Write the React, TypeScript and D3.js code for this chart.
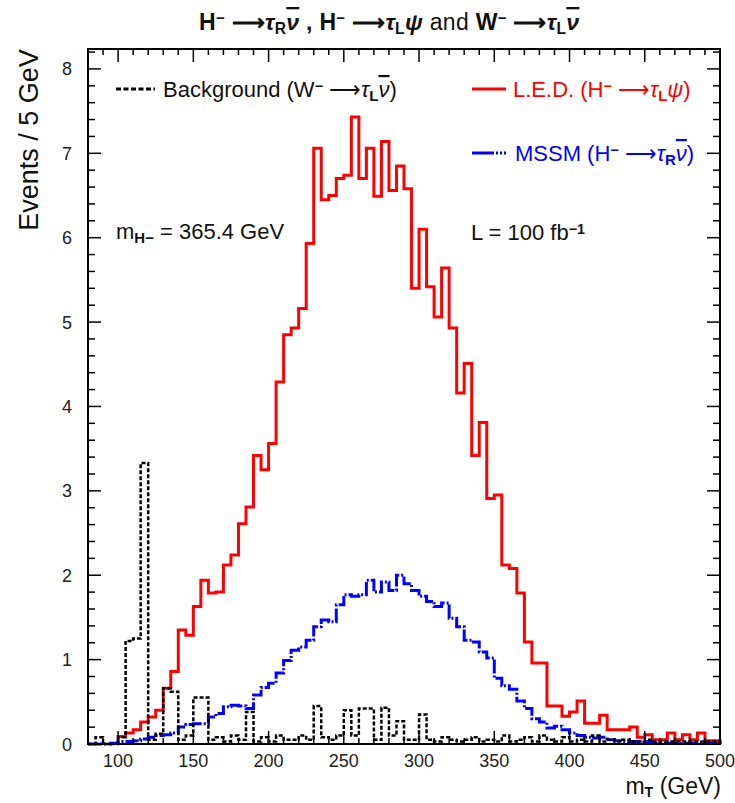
import React from "react";
import * as d3 from "d3";

const BIN = 5;
const ledStart = 100;
const ledValues = [
  0.09, 0.13, 0.17, 0.26, 0.32, 0.4, 0.66, 0.86, 1.35, 1.29,
  1.63, 1.94, 1.79, 1.8, 2.12, 2.24, 2.61, 2.81, 3.42, 3.25,
  3.56, 4.29, 4.85, 4.93, 5.16, 5.93, 7.06, 6.45, 6.5, 6.7,
  6.74, 7.43, 6.7, 7.06, 6.49, 7.14, 6.56, 6.85, 6.58, 5.4,
  6.1, 5.42, 5.06, 5.64, 4.93, 4.16, 4.51, 3.42, 3.81, 2.91,
  2.95, 2.12, 2.08, 1.79, 1.21, 0.96, 0.96, 0.45, 0.45, 0.33,
  0.38, 0.51, 0.245, 0.245, 0.34, 0.17, 0.17, 0.17, 0.2, 0.08,
  0.11, 0.05, 0.05, 0.13, 0.05, 0.11, 0.05, 0.13, 0.04, 0.04,
];
const mssmStart = 80;
const mssmValues = [
  0, 0, 0, 0.01, 0.03, 0.03, 0.04, 0.06, 0.08, 0.1,
  0.11, 0.13, 0.2, 0.23, 0.24, 0.24, 0.32, 0.36, 0.44, 0.46,
  0.45, 0.42, 0.58, 0.67, 0.72, 0.84, 0.99, 1.11, 1.15, 1.23,
  1.39, 1.47, 1.45, 1.65, 1.77, 1.75, 1.77, 1.94, 1.8, 1.92,
  1.82, 2.0, 1.9, 1.82, 1.75, 1.69, 1.63, 1.67, 1.49, 1.39,
  1.23, 1.21, 1.09, 1.02, 0.78, 0.69, 0.65, 0.51, 0.42, 0.3,
  0.26, 0.19, 0.21, 0.17, 0.13, 0.1, 0.08, 0.07, 0.08, 0.05,
  0.04, 0.03, 0.03, 0.02, 0.03, 0.01, 0.01, 0.01, 0.01, 0.01,
  0.01, 0.01, 0.01, 0.01,
];
const bkgStart = 80;
const bkgValues = [
  0, 0.08, 0, 0, 0.08, 1.22, 1.25, 3.33, 0.05, 0.12,
  0.66, 0.62, 0.05, 0.1, 0.55, 0.55, 0.05, 0.08, 0.03, 0.1,
  0.05, 0.38, 0.03, 0.08, 0.03, 0.1, 0.05, 0.05, 0.1, 0.05,
  0.45, 0.08, 0.05, 0.1, 0.4, 0.1, 0.42, 0.42, 0.05, 0.43,
  0.1, 0.27, 0.05, 0.05, 0.35, 0.05, 0.03, 0.08, 0.05, 0.03,
  0.05, 0.08, 0.03, 0.05, 0.03, 0.1, 0.03, 0.05, 0.08, 0.03,
  0.1, 0.05, 0.03, 0.08, 0.03, 0.05, 0.03, 0.1, 0.03, 0.05,
  0.03, 0.05, 0.03, 0.03, 0.05, 0.03, 0.03, 0.03, 0.03, 0.03,
  0.03, 0.03, 0.03, 0.03,
];
const xTickLabels = [100, 150, 200, 250, 300, 350, 400, 450, 500];
const yTickLabels = [0, 1, 2, 3, 4, 5, 6, 7, 8];

const W = 735;
const H = 803;
const PL = 88;
const PR = 720;
const PT = 49;
const PB = 744;
const FONT = "'Liberation Sans', Arial, Helvetica, sans-serif";
const RED = "#ff0000";
const BLUE = "#0000ff";

export default function App() {
  const x = d3.scaleLinear().domain([80, 500]).range([PL, PR]);
  const y = d3.scaleLinear().domain([0, 8.236]).range([PB, PT]);

  const hist = (start: number, vals: number[]) => {
    const end = start + vals.length * BIN;
    const pts: [number, number][] = [
      [start, 0],
      ...vals.map((v, i) => [start + i * BIN, v] as [number, number]),
      [end, vals[vals.length - 1]],
      [end, 0],
    ];
    return d3
      .line<[number, number]>()
      .x((d) => x(d[0]))
      .y((d) => y(d[1]))
      .curve(d3.curveStepAfter)(pts) as string;
  };

  const xMinor = d3.range(80, 501, 10);
  const yMinor = d3.range(0, 8.21, 0.2);

  const sub = (t: string, bold = true) => (
    <tspan baselineShift="-28%" fontSize="68%" fontWeight={bold ? "bold" : "normal"}>
      {t}
    </tspan>
  );
  const sup = (t: string) => (
    <tspan baselineShift="45%" fontSize="65%" fontWeight="bold">
      {t}
    </tspan>
  );
  const nubar = () => (
    <tspan style={{ textDecoration: "overline" }} fontStyle="italic">
      ν
    </tspan>
  );
  const tau = () => <tspan fontStyle="italic">τ</tspan>;
  const arrow = "⟶";

  return (
    <svg
      width={W}
      height={H}
      style={{ position: "absolute", left: 0, top: 0, background: "#fff" }}
      fontFamily={FONT}
    >
      {/* title */}
      <text x={199} y={30} fontSize={23} fill="#111" fontWeight="bold" letterSpacing={0.3}>
        H{sup("−")}
        <tspan> {arrow}</tspan>
        {tau()}
        {sub("R")}
        {nubar()}
        <tspan> , H</tspan>
        {sup("−")}
        <tspan> {arrow}</tspan>
        {tau()}
        {sub("L")}
        <tspan fontStyle="italic">ψ</tspan>
        <tspan fontWeight="normal"> and </tspan>
        <tspan>W</tspan>
        {sup("−")}
        <tspan> {arrow}</tspan>
        {tau()}
        {sub("L")}
        {nubar()}
      </text>

      {/* histograms */}
      <path d={hist(ledStart, ledValues)} fill="none" stroke={RED} strokeWidth={3} />
      <path
        d={hist(mssmStart, mssmValues)}
        fill="none"
        stroke={BLUE}
        strokeWidth={3}
        strokeDasharray="14 2 2 2"
      />
      <path
        d={hist(bkgStart, bkgValues)}
        fill="none"
        stroke="#000"
        strokeWidth={2.5}
        strokeDasharray="4 2"
      />

      {/* frame */}
      <rect x={PL} y={PT} width={PR - PL} height={PB - PT} fill="none" stroke="#000" strokeWidth={2} />

      {/* ticks */}
      {xMinor.map((v) => {
        const major = v % 50 === 0;
        const len = major ? 13 : 6;
        return (
          <g key={"xt" + v}>
            <line x1={x(v)} x2={x(v)} y1={PB} y2={PB - len} stroke="#000" strokeWidth={1.5} />
            <line x1={x(v)} x2={x(v)} y1={PT} y2={PT + len} stroke="#000" strokeWidth={1.5} />
          </g>
        );
      })}
      {yMinor.map((v, i) => {
        const major = i % 5 === 0;
        const len = major ? 13 : 7;
        return (
          <g key={"yt" + i}>
            <line x1={PL} x2={PL + len} y1={y(v)} y2={y(v)} stroke="#000" strokeWidth={1.5} />
            <line x1={PR} x2={PR - len} y1={y(v)} y2={y(v)} stroke="#000" strokeWidth={1.5} />
          </g>
        );
      })}

      {/* tick labels */}
      {xTickLabels.map((v) => (
        <text key={"xl" + v} x={x(v)} y={767} fontSize={18} textAnchor="middle" fill="#222">
          {v}
        </text>
      ))}
      {yTickLabels.map((v) => (
        <text key={"yl" + v} x={72} y={y(v) + 6.5} fontSize={18} textAnchor="end" fill="#222">
          {v}
        </text>
      ))}

      {/* axis titles */}
      <text x={721} y={794} fontSize={23} textAnchor="end" fill="#111">
        m
        <tspan baselineShift="-18%" fontSize="62%" fontWeight="bold">
          T
        </tspan>
        <tspan> (GeV)</tspan>
      </text>
      <text
        transform="translate(38,140) rotate(-90)"
        fontSize={27}
        textAnchor="middle"
        fill="#111"
      >
        Events / 5 GeV
      </text>

      {/* legend */}
      <line x1={116} x2={155} y1={89} y2={89} stroke="#000" strokeWidth={3} strokeDasharray="5 2.5" />
      <text x={163} y={97} fontSize={22} fill="#111">
        Background (W{sup("−")}
        <tspan> {arrow}</tspan>
        {tau()}
        {sub("L")}
        {nubar()}
        <tspan>)</tspan>
      </text>

      <line x1={472} x2={506} y1={89} y2={89} stroke={RED} strokeWidth={3} />
      <text x={513} y={97} fontSize={22} fill={RED}>
        L.E.D. (H{sup("−")}
        <tspan> {arrow}</tspan>
        {tau()}
        {sub("L")}
        <tspan fontStyle="italic">ψ</tspan>
        <tspan>)</tspan>
      </text>

      <line x1={472} x2={506} y1={153} y2={153} stroke={BLUE} strokeWidth={3} strokeDasharray="22 2 2 2 2 2" />
      <text x={515} y={161} fontSize={22} fill={BLUE}>
        MSSM (H{sup("−")}
        <tspan> {arrow}</tspan>
        {tau()}
        {sub("R")}
        {nubar()}
        <tspan>)</tspan>
      </text>

      {/* annotations */}
      <text x={116} y={239} fontSize={22} fill="#111">
        m{sub("H−")}
        <tspan> = 365.4 GeV</tspan>
      </text>
      <text x={471} y={240} fontSize={22} fill="#111">
        L = 100 fb{sup("−1")}
      </text>
    </svg>
  );
}
